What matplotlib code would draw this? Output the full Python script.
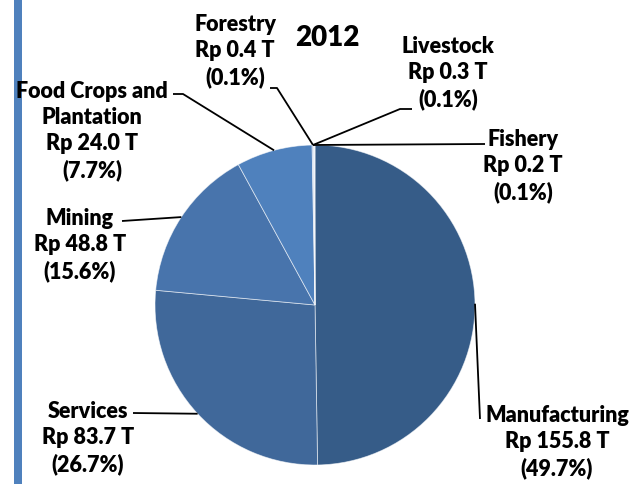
import numpy as np
import matplotlib.pyplot as plt
from matplotlib.patches import Rectangle

# data (Rp trillion), clockwise from 12 o'clock
sectors = ["Manufacturing", "Services", "Mining", "Food Crops and\nPlantation",
           "Forestry", "Livestock", "Fishery"]
values = [155.8, 83.7, 48.8, 24.0, 0.4, 0.3, 0.2]
colors = ["#365C88", "#40689A", "#4874AC", "#4F81BD", "#9DB5DA", "#BFCEE6", "#D5DFEF"]
title = "2012"

W, H = 637, 485
cx, cy, r = 315, H - 306, 160

# label block centre, and elbow points of the leader line (pixel coords, y down)
label_pos = [(557, 442), (88, 438), (80, 245), (92, 131), (235, 51), (448, 73), (523, 166)]
elbows = [[(480, 420)], [(133, 414)], [(122, 222)], [(183, 95), (173, 95)],
          [(277, 89), (270, 89)], [(400, 110), (412, 110)], [(485, 145)]]

plt.rcParams['font.family'] = ['Lato', 'DejaVu Sans']
fig = plt.figure(figsize=(W / 100, H / 100), dpi=100)
ax = fig.add_axes([0, 0, 1, 1])

# left decorative bar
ax.add_patch(Rectangle((14, 0), 8, H, color="#4F81BD", lw=0))

wedges, _ = ax.pie(values, colors=colors, startangle=90, counterclock=False,
                   center=(cx, cy), radius=r, frame=True,
                   wedgeprops=dict(edgecolor=(1, 1, 1, 0.6), linewidth=0.6))
ax.set_xlim(0, W)
ax.set_ylim(0, H)
ax.set_aspect('equal')
ax.axis('off')

total = sum(values)
for i, (name, v) in enumerate(zip(sectors, values)):
    w = wedges[i]
    mid = np.deg2rad((w.theta1 + w.theta2) / 2)
    ax_pt = (cx + r * np.cos(mid), cy + r * np.sin(mid))
    if v < 1:
        ax_pt = (cx - 2, cy + r)
    pts = [ax_pt] + [(x, H - y) for x, y in elbows[i]]
    xs, ys = zip(*pts)
    ax.plot(xs, ys, color="black", lw=1.3, solid_capstyle='butt')
    txt = f"{name}\nRp {v:.1f} T\n({v / total * 100:.1f}%)"
    lx, ly = label_pos[i]
    ax.text(lx, H - ly, txt, ha='center', va='center', multialignment='center',
            fontsize=15.5, fontweight='heavy', linespacing=1.3)

ax.text(327, H - 38, title, ha='center', va='center', fontsize=20, fontweight='heavy')

fig.savefig("out.png", dpi=100)
